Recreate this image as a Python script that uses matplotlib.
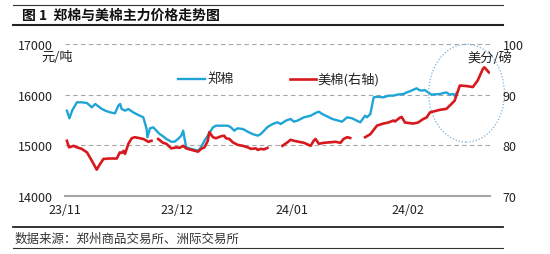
import matplotlib
matplotlib.use("Agg")
import matplotlib.pyplot as plt
import numpy as np
from matplotlib.patches import Ellipse
from matplotlib.lines import Line2D

plt.rcParams['font.family'] = ['Noto Sans CJK SC', 'DejaVu Sans']

title = "图 1  郑棉与美棉主力价格走势图"
source = "数据来源：郑州商品交易所、洲际交易所"
left_unit = "元/吨"
right_unit = "美分/磅"
zc_name = "郑棉"
ct_name = "美棉(右轴)"

tick_pos = [0, 30, 61, 92]
tick_labels = ["23/11", "23/12", "24/01", "24/02"]
left_ticks = [14000, 15000, 16000, 17000]
right_ticks = [70, 80, 90, 100]

# days since 2023-11-01
zc_day = [0.5, 1.2, 1.9, 3.2, 4.5, 5.9, 7.2, 8.1, 9.9, 10.8, 12.1, 13.4, 14.3, 14.8,
          15.2, 16.1, 17.0, 18.3, 19.7, 21.0, 21.9, 22.1, 22.8, 23.7, 24.5, 25.4,
          26.3, 27.2, 28.5, 29.4, 30.3, 31.2, 31.7, 32.1, 32.5, 33.9, 35.7, 36.5,
          37.4, 38.3, 39.7, 40.5, 42.3, 43.7, 44.5, 45.4, 46.3, 47.7, 49.0, 50.3,
          51.7, 52.5, 53.4, 54.3, 55.7, 57.0, 57.9, 59.2, 60.5, 61.4, 62.3, 64.1,
          65.9, 67.2, 68.1, 69.0, 70.3, 71.7, 73.4, 74.3, 75.7, 77.0, 78.3, 79.2,
          80.5, 81.0, 81.9, 82.8, 83.7, 85.4, 86.8, 88.1, 89.0, 90.8, 91.7, 92.5,
          94.3, 95.0, 95.7, 96.5, 97.4, 98.3, 100.5, 102.3, 103.2, 104.1, 104.5, 105.0]
zc_price = [15684, 15533, 15684, 15849, 15849, 15835, 15750, 15816, 15717, 15684, 15651,
            15632, 15783, 15816, 15717, 15684, 15717, 15651, 15598, 15553, 15322, 15158,
            15336, 15355, 15289, 15223, 15178, 15125, 15072, 15072, 15125, 15191, 15289,
            15125, 14961, 14928, 14895, 14961, 15092, 15191, 15355, 15388, 15388, 15388,
            15355, 15289, 15336, 15322, 15270, 15223, 15191, 15223, 15290, 15360, 15421,
            15454, 15421, 15486, 15520, 15467, 15486, 15553, 15585, 15638, 15664, 15618,
            15572, 15520, 15486, 15467, 15553, 15533, 15486, 15454, 15585, 15553, 15618,
            15947, 15960, 15947, 15980, 15980, 16000, 16013, 16046, 16066, 16125, 16092,
            16079, 16092, 16046, 16000, 16013, 16046, 16000, 16013, 15980, 16026]

nan = float('nan')
ct_day = [0.5, 1.1, 2.3, 3.2, 4.5, 5.9, 6.7, 7.7, 8.5, 9.4, 10.3, 11.7, 13.0, 13.9,
          14.7, 15.2, 15.7, 16.1, 17.0, 17.9, 18.7, 20.1, 21.0, 21.9, 22.3, 23.2,
          24.2,
          25.0, 26.3, 27.2, 28.5, 29.9, 30.7, 31.7, 32.5, 33.9, 35.7, 36.5, 37.4,
          38.3, 38.7, 39.7, 40.5, 41.9, 42.7, 43.2, 44.1, 45.0, 46.3, 47.7, 49.0,
          49.9, 51.2, 51.7, 52.5, 53.4, 54.3,
          56.0,
          58.3, 59.7, 60.5, 61.4, 62.7, 64.1, 65.9, 66.7, 67.2, 68.1, 69.4, 71.2,
          72.5, 73.9, 74.7, 75.7, 76.5,
          78.5,
          80.5, 81.9, 83.7, 85.4, 86.7, 88.1, 88.5, 89.9, 90.3, 91.2, 93.4, 94.7,
          96.1, 97.0, 97.9, 100.5, 102.3, 103.7, 104.5, 105.9, 107.7, 109.4, 110.7,
          112.1, 112.5, 113.7]
ct_price = [80.9, 79.6, 79.9, 79.6, 79.3, 78.6, 77.6, 76.3, 75.2, 76.3, 77.3, 77.4, 77.4,
            77.4, 78.6, 78.5, 78.9, 78.3, 80.3, 81.4, 81.6, 81.4, 81.25, 80.9, 80.7, 80.9,
            nan,
            81.25, 80.5, 80.3, 79.4, 79.6, 79.5, 79.9, 79.4, 79.1, 78.75, 79.3, 79.6,
            80.9, 82.6, 81.6, 81.4, 81.8, 81.9, 81.4, 81.25, 80.6, 80.1, 79.9, 79.6,
            79.3, 79.4, 79.1, 79.3, 79.2, 79.5,
            nan,
            79.9, 80.6, 81.1, 80.9, 80.7, 80.5, 79.9, 80.9, 81.25, 80.3, 80.5, 80.6,
            80.7, 80.5, 81.25, 81.6, 81.45,
            nan,
            81.6, 82.2, 83.9, 84.3, 84.5, 84.9, 84.7, 85.5, 85.6, 84.5, 84.3, 84.5,
            85.2, 85.5, 86.5, 87.0, 87.2, 88.2, 88.8, 91.8, 91.7, 91.5, 92.8,
            95.1, 95.4, 94.4]

W, H = 550, 255
fig = plt.figure(figsize=(W / 100, H / 100), dpi=100)

def fx(px):
    return px / W

def fy(py):
    return 1 - py / H

ax = fig.add_axes([fx(65), fy(197), fx(490) - fx(65), fy(45) - fy(197)])
ax2 = ax.twinx()

blue = '#1ea5d6'
red = '#d7191f'
ax.plot(zc_day, zc_price, color=blue, lw=1.7, zorder=3)
ax2.plot(ct_day, ct_price, color=red, lw=1.9, zorder=3)

ax.set_xlim(0.3, 114)
ax.set_ylim(14000, 17000)
ax2.set_ylim(70, 100)
ax.set_yticks(left_ticks)
ax.set_yticklabels([str(v) for v in left_ticks])
ax2.set_yticks(right_ticks)
ax2.set_yticklabels([str(v) for v in right_ticks])
ax.set_xticks(tick_pos)
ax.set_xticklabels(tick_labels)

for v in left_ticks[1:]:
    ax.axhline(v, color='#a6a6a6', lw=0.8, ls=(0, (4, 3)), zorder=1)

for a in (ax, ax2):
    for s in a.spines.values():
        s.set_visible(False)
    a.tick_params(length=0, labelsize=9, colors='#222222')
ax.spines['bottom'].set_visible(True)
ax.spines['bottom'].set_color('#a6a6a6')
ax.spines['bottom'].set_linewidth(1.5)
ax.tick_params(axis='y', pad=9)
ax2.tick_params(axis='y', pad=9)
ax.tick_params(axis='x', pad=5)

# highlight ellipse
ell = Ellipse((107.7, 16030), 20.3, 1930, fill=False, ec='#7fb2d8', lw=0.9,
              ls=(0, (1, 1.5)), zorder=4, clip_on=False)
ax.add_patch(ell)

# unit labels
fig.text(fx(57), fy(58), left_unit, ha='center', va='center', fontsize=9.5, color='#222222')
fig.text(fx(490), fy(58), right_unit, ha='center', va='center', fontsize=9.5, color='#222222')

# legend (manual)
fig.add_artist(Line2D([fx(178), fx(205)], [fy(80), fy(80)], color=blue, lw=1.7))
fig.text(fx(207), fy(80), zc_name, ha='left', va='center', fontsize=9.5, color='#222222')
fig.add_artist(Line2D([fx(290), fx(316)], [fy(80), fy(80)], color=red, lw=1.9))
fig.text(fx(317), fy(80), ct_name, ha='left', va='center', fontsize=9.5, color='#222222')

# title and rules
fig.add_artist(Line2D([fx(13), fx(503)], [fy(6), fy(6)], color='#333333', lw=0.8))
fig.text(fx(22), fy(16), title, ha='left', va='center', fontsize=10, fontweight='bold', color='#111111')
fig.add_artist(Line2D([fx(13), fx(503)], [fy(25.5), fy(25.5)], color='#222222', lw=1.5))
fig.add_artist(Line2D([fx(13), fx(503)], [fy(228), fy(228)], color='#222222', lw=1.3))
fig.text(fx(15), fy(239), source, ha='left', va='center', fontsize=9, color='#333333')
fig.add_artist(Line2D([fx(13), fx(503)], [fy(249), fy(249)], color='#333333', lw=0.8))

fig.savefig('out.png', dpi=100)
